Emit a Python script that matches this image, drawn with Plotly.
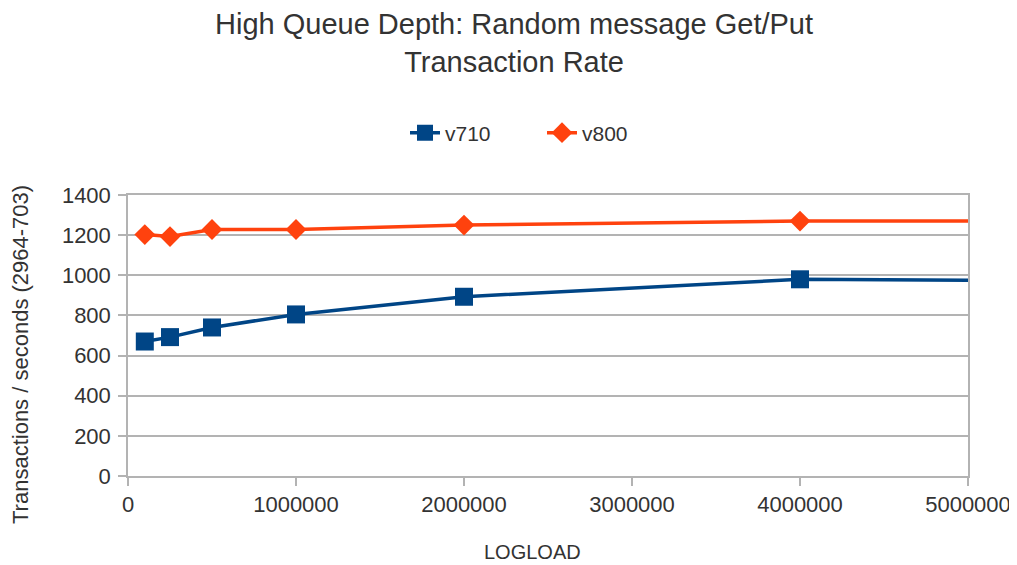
import plotly.graph_objects as go

logload = [100000, 250000, 500000, 1000000, 2000000, 4000000, 8000000]
v710 = [670, 692, 740, 805, 893, 980, 962]
v800 = [1203, 1193, 1228, 1228, 1250, 1270, 1270]
x_ticks = [0, 1000000, 2000000, 3000000, 4000000, 5000000]
y_ticks = [0, 200, 400, 600, 800, 1000, 1200, 1400]

FONT = "Liberation Sans, Arial, sans-serif"
TXT = "#333333"
GRID = "#b3b3b3"

# page has an 8px body margin; figure sized to fit the 1017x565 window
OFF = 8
W, H = 1009, 557
ML, MR, MT, MB = 120, 49, 187, 89
PW, PH = W - ML - MR, H - MT - MB


def px_x(page_x):
    return (page_x - OFF - ML) / PW


def px_y(page_y):
    return (H - MB - (page_y - OFF)) / PH


fig = go.Figure()
fig.add_trace(go.Scatter(
    x=logload, y=v710, name="v710", mode="lines+markers",
    line=dict(color="#004586", width=3.5),
    marker=dict(symbol="square", size=18, color="#004586"),
))
fig.add_trace(go.Scatter(
    x=logload, y=v800, name="v800", mode="lines+markers",
    line=dict(color="#ff420e", width=3.5),
    marker=dict(symbol="diamond", size=16, color="#ff420e"),
))

fig.update_layout(
    width=W, height=H,
    paper_bgcolor="white", plot_bgcolor="white",
    margin=dict(l=ML, r=MR, t=MT, b=MB, autoexpand=False),
    font=dict(family=FONT, color=TXT),
    legend=dict(
        orientation="h", xref="container", x=(405 - OFF) / W, xanchor="left",
        yref="container", y=1 - (133 - OFF) / H, yanchor="middle",
        font=dict(size=21, color=TXT), entrywidth=92, entrywidthmode="pixels",
    ),
    showlegend=True,
    annotations=[
        dict(
            text="High Queue Depth: Random message Get/Put<br>Transaction Rate",
            xref="paper", yref="paper", x=px_x(514), y=px_y(43),
            xanchor="center", yanchor="middle", showarrow=False,
            font=dict(size=29, color=TXT, family=FONT),
        ),
        dict(
            text="LOGLOAD", xref="paper", yref="paper",
            x=px_x(532), y=px_y(552), xanchor="center", yanchor="middle",
            showarrow=False, font=dict(size=20, color=TXT, family=FONT),
        ),
        dict(
            text="Transactions / seconds (2964-703)", xref="paper", yref="paper",
            x=px_x(20), y=px_y(355), xanchor="center", yanchor="middle",
            textangle=-90, showarrow=False,
            font=dict(size=22, color=TXT, family=FONT),
        ),
    ],
)
fig.update_xaxes(
    range=[0, 5000000], tickvals=x_ticks,
    ticktext=[str(v) for v in x_ticks], automargin=False,
    showgrid=False, zeroline=False,
    showline=True, linecolor=GRID, linewidth=1.5, mirror=True,
    ticks="outside", ticklen=8, tickcolor=GRID, tickwidth=1.5,
    tickfont=dict(size=22, color=TXT),
)
fig.update_yaxes(
    range=[0, 1400], tickvals=y_ticks, automargin=False,
    showgrid=True, gridcolor=GRID, gridwidth=1.5, zeroline=False,
    showline=True, linecolor=GRID, linewidth=1.5, mirror=True,
    ticks="outside", ticklen=8, tickcolor=GRID, tickwidth=1.5,
    tickfont=dict(size=22, color=TXT), ticklabelstandoff=3,
)

fig.write_html("out.html")
